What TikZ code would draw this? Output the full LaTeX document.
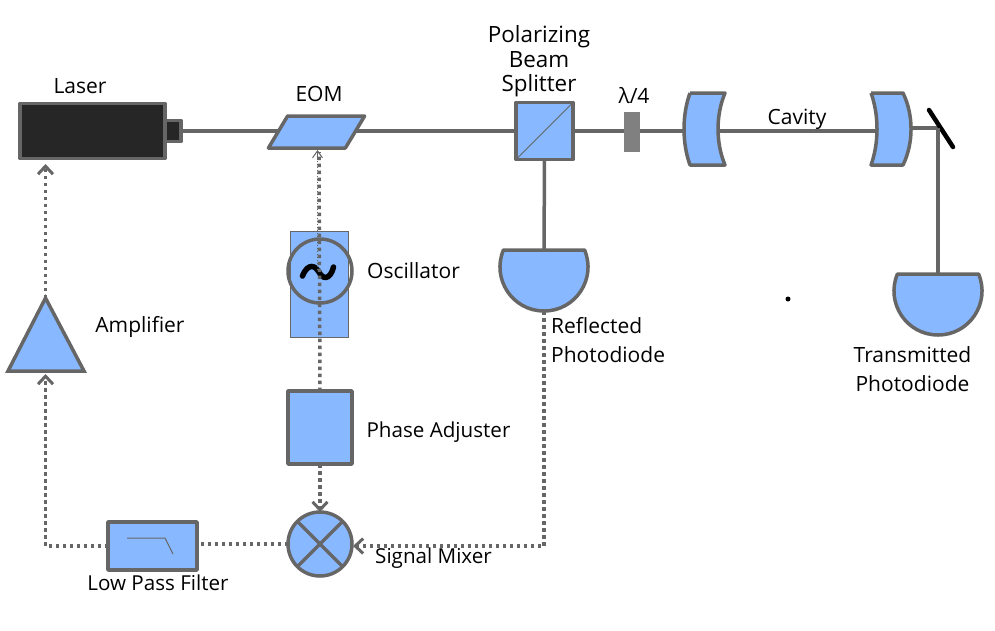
\documentclass[tikz,border=0pt]{standalone}
\usepackage{fontspec}
\setmainfont{Open Sans}
\usepackage{xcolor}
\usetikzlibrary{arrows.meta, positioning, shapes.geometric, calc}
\definecolor{partblue}{HTML}{88B8FF}
\definecolor{edgegrey}{HTML}{666666}
\tikzset{
  part/.style={draw=edgegrey, fill=partblue, line width=3.5pt, line join=round},
  partbox/.style={part, rectangle, inner sep=0pt, outer sep=0pt},
  beam/.style={draw=edgegrey, line width=3.5pt},
  sigline/.style={draw=edgegrey, line width=3.5pt, dash pattern=on 3.5pt off 3.5pt},
  sigtip/.style={-{Straight Barb[length=8pt,width=15pt,line width=3pt]}},
  lbl/.style={inner sep=0pt, font=\fontsize{21}{24}\selectfont, align=center},
  detector/.pic={
    \draw[part] (-40.6,0) -- (40.6,0)
      .. controls (52.7,29) and (31.4,61) .. (0,61)
      .. controls (-31.4,61) and (-52.7,29) .. (-40.6,0) -- cycle;
    \coordinate (-top) at (0,0);
    \coordinate (-bottom) at (0,61);
  }
}
\begin{document}
\begin{tikzpicture}[x=1pt, y=-1pt]
  \useasboundingbox (0,0) rectangle (995,630);

  % Laser head
  \node[partbox, fill=black!85, minimum width=145pt, minimum height=55pt] (laser) at (92.5,131) {};
  \node[partbox, fill=black!85, minimum width=16pt, minimum height=21pt] (nozzle) at (173,131) {};

  % Beam parts on the table
  \node[partbox, minimum width=77pt, minimum height=32pt, xslant=0.6, transform shape] (eom) at (316.5,132) {};
  \node[partbox, minimum size=57pt] (pbs) at (544.5,131) {};
  \draw[edgegrey, line width=1pt] (pbs.south west) -- (pbs.north east);
  \node[rectangle, fill=black!50, minimum width=16pt, minimum height=40pt, inner sep=0pt] (plate) at (632,132) {};

  % Cavity mirrors
  \coordinate (mirrorAin) at (684,131);
  \coordinate (mirrorAout) at (718,131);
  \coordinate (mirrorBin) at (877,131);
  \coordinate (mirrorBout) at (911,128);
  \coordinate (foldA) at (929,110);
  \coordinate (foldB) at (953,147);
  \coordinate (foldC) at (938,128);

  % Beam path
  \draw[beam] (nozzle.east) -- (eom.west |- nozzle.east);
  \draw[beam] (eom.east |- pbs.west) -- (pbs.west);
  \draw[beam] (pbs.east) -- (plate.west |- pbs.east);
  \draw[beam] (plate.east |- pbs.east) -- (mirrorAin);
  \draw[beam] (mirrorAout) -- (mirrorBin);
  \draw[beam] (mirrorBout) -- (foldC);

  \draw[part] (690,93) -- (725,93) .. controls (715.7,115) and (715.7,143) .. (725,165)
    -- (690,165) .. controls (682,143) and (682,115) .. (690,93);
  \draw[part] (871,93) -- (903,93) .. controls (913.7,115) and (913.7,143) .. (903,165)
    -- (871,165) .. controls (879,143) and (879,115) .. (871,93);
  \draw[black, line width=4.5pt, line cap=round] (foldA) -- (foldB);

  % Photodiodes
  \pic (diodeR) at (544,250) {detector};
  \pic (diodeT) at (938,274) {detector};
  \draw[beam] (pbs.south) -- (diodeR-top);
  \draw[beam] (foldC) -- (diodeT-top);

  % Oscillator
  \node[rectangle, draw=edgegrey, fill=partblue, line width=1pt, minimum width=58pt, minimum height=106pt, inner sep=0pt] (oscbox) at (319,284) {};
  \node[circle, draw=edgegrey, line width=3.5pt, minimum size=64pt, inner sep=0pt] (osc) at (320,271) {};
  \draw[black, line width=5.5pt, line cap=round] (302.5,276) .. controls (308,262) and (316,266) .. (319,272)
    .. controls (322,279) and (330,281) .. (333.5,267);

  % Signal chain
  \node[partbox, minimum width=64pt, minimum height=73pt] (phase) at (320,427.5) {};
  \node[part, circle, minimum size=64pt, inner sep=0pt, outer sep=0pt] (mixer) at (320,544) {};
  \draw[edgegrey, line width=3.5pt] (mixer.45) -- (mixer.225);
  \draw[edgegrey, line width=3.5pt] (mixer.135) -- (mixer.315);
  \node[partbox, minimum width=89pt, minimum height=48pt] (lpf) at (152.5,546) {};
  \draw[edgegrey, line width=1pt] (127,538) -- (165,538) -- (173,554);

  % Amplifier
  \coordinate (ampT) at (45.5,298);
  \coordinate (ampB) at (45.5,374);
  \draw[part, line join=miter] (ampT) -- (84,371) -- (8,371) -- cycle;

  % Feedback lines
  \coordinate (eomin) at (319,152);
  \coordinate (cornerR) at (544,546);
  \coordinate (cornerL) at (45.5,546);
  \coordinate (lpfgap) at (200,544);
  \coordinate (lasergap) at (45.5,164);
  \draw[edgegrey, line width=1pt, dotted] (317.5,270) -- (317.5,150);
  \draw[sigline] (phase.north) -- (eomin);
  \draw[edgegrey, line width=1pt, -{Straight Barb[length=7pt,width=10pt,line width=1pt]}] (317.5,160) -- (317.5,150);
  \draw[sigline, sigtip] (phase.south) -- (mixer.north);
  \draw[sigline, sigtip] (diodeR-bottom) -- (cornerR) -- ($(mixer.east)+(1,2)$);
  \draw[sigline] (mixer.west) -- (lpfgap);
  \draw[sigline, sigtip] (lpf.west) -- (cornerL) -- (ampB);
  \draw[sigline, sigtip] (ampT) -- (lasergap);

  % Dot
  \node[circle, fill=black, minimum size=5pt, inner sep=0pt] (dot) at (788,299) {};

  % Labels
  \node[lbl] (lasertxt) at (80,86) {Laser};
  \node[lbl] (eomtxt) at (319,94) {EOM};
  \node[lbl, font=\fontsize{22.4}{24.5}\selectfont] (pbstxt) at (539,61.5) {Polarizing\\Beam\\Splitter};
  \node[lbl] (platetxt) at (634,96) {λ/4};
  \node[lbl] (cavitytxt) at (797,119.5) {Cavity};
  \node[lbl] (osctxt) at (413.5,271) {Oscillator};
  \node[lbl] (amptxt) at (140,327) {Amplifier};
  \node[lbl, font=\fontsize{20.6}{24}\selectfont] (phasetxt) at (438.5,432) {Phase Adjuster};
  \node[lbl, align=left, anchor=west] (refltxt) at (551,340.5) {Reflected\\[5pt]Photodiode};
  \node[lbl] (transtxt) at (912.5,369.5) {Transmitted\\[5pt]Photodiode};
  \node[lbl, font=\fontsize{20.6}{24}\selectfont] (mixtxt) at (433.5,558) {Signal Mixer};
  \node[lbl, font=\fontsize{20.6}{24}\selectfont] (lpftxt) at (158,583) {Low Pass Filter};
\end{tikzpicture}
\end{document}
